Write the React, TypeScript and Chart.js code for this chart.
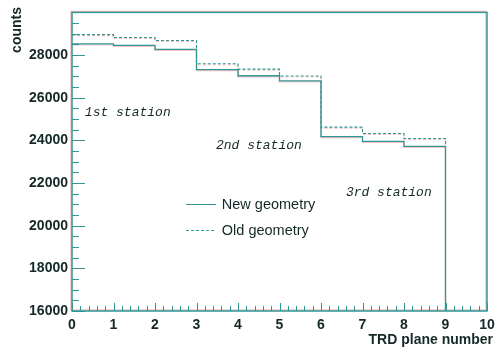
import React, { useEffect, useRef } from 'react';
import { Chart, registerables } from 'chart.js';

Chart.register(...registerables);

// TRD plane number (bin lower edges) and bin contents
const planes = [0, 1, 2, 3, 4, 5, 6, 7, 8, 9];
const newGeometry = [28520, 28450, 28270, 27320, 27030, 26790, 24180, 23950, 23720, 0];
const oldGeometry = [28960, 28820, 28680, 27590, 27340, 27020, 24620, 24320, 24090, 0];
const yTickLabels = [16000, 18000, 20000, 22000, 24000, 26000, 28000];
const xTickLabels = [0, 1, 2, 3, 4, 5, 6, 7, 8, 9, 10];
const stations = ['1st station', '2nd station', '3rd station'];
const seriesNames = ['New geometry', 'Old geometry'];

const TEAL = '#2f9896';
const TEXT = '#142826';
const SHADOW = 'rgba(235,120,120,0.45)';

function histPoints(values: number[]) {
  const pts = planes.map((p, i) => ({ x: p, y: values[i] }));
  pts.push({ x: planes[planes.length - 1] + 1, y: values[values.length - 1] });
  return pts;
}

const decorPlugin = {
  id: 'decor',
  beforeDatasetsDraw(chart: any) {
    const ctx = chart.ctx;
    ctx.save();
    ctx.shadowColor = SHADOW;
    ctx.shadowOffsetX = 0;
    ctx.shadowOffsetY = 1;
    ctx.shadowBlur = 0;
  },
  afterDatasetsDraw(chart: any) {
    chart.ctx.restore();
  },
  afterDraw(chart: any) {
    const { ctx, chartArea: a, scales } = chart;
    const xs = scales.x;
    const ys = scales.y;
    ctx.save();
    ctx.shadowColor = SHADOW;
    ctx.shadowOffsetX = -1;
    ctx.shadowOffsetY = -1;
    ctx.shadowBlur = 0;
    // frame
    ctx.strokeStyle = TEAL;
    ctx.lineWidth = 1.5;
    ctx.strokeRect(a.left, a.top, a.right - a.left, a.bottom - a.top);
    ctx.restore();

    ctx.save();
    ctx.strokeStyle = TEAL;
    // y ticks (inward)
    ctx.lineWidth = 1;
    ctx.beginPath();
    for (let v = ys.min; v <= ys.max; v += 500) {
      const y = Math.round(ys.getPixelForValue(v)) + 0.5;
      const len = v % 2000 === 0 ? 13 : 7;
      ctx.moveTo(a.left, y);
      ctx.lineTo(a.left + len, y);
    }
    // x ticks (inward)
    for (let i = 0; i <= 50; i++) {
      const v = xs.min + i * 0.2;
      const x = Math.round(xs.getPixelForValue(v)) + 0.5;
      const len = i % 5 === 0 ? 8 : 5;
      ctx.moveTo(x, a.bottom);
      ctx.lineTo(x, a.bottom - len);
    }
    ctx.stroke();
    ctx.restore();

    ctx.save();
    // axis titles
    ctx.fillStyle = TEXT;
    ctx.font = 'bold 14px "Liberation Sans", Arial, sans-serif';
    ctx.textAlign = 'right';
    ctx.textBaseline = 'middle';
    ctx.fillText('TRD plane number', 493, 340);
    ctx.save();
    ctx.translate(17, 7);
    ctx.rotate(-Math.PI / 2);
    ctx.fillText('counts', 0, 0);
    ctx.restore();

    // station annotations
    ctx.font = 'italic 13px "Liberation Mono", monospace';
    ctx.textAlign = 'left';
    const stationAt = [
      [0.31, 25290],
      [3.47, 23735],
      [6.6, 21540],
    ];
    stations.forEach((s, i) => {
      ctx.fillText(s, xs.getPixelForValue(stationAt[i][0]), ys.getPixelForValue(stationAt[i][1]));
    });

    // legend
    const legendAt = [21030, 19800];
    ctx.font = '14.5px "Liberation Sans", Arial, sans-serif';
    chart.data.datasets.forEach((ds: any, i: number) => {
      const y = Math.round(ys.getPixelForValue(legendAt[i])) + 0.5;
      ctx.strokeStyle = ds.borderColor;
      ctx.lineWidth = 1;
      ctx.setLineDash(ds.borderDash || []);
      ctx.beginPath();
      ctx.moveTo(xs.getPixelForValue(2.75), y);
      ctx.lineTo(xs.getPixelForValue(3.47), y);
      ctx.stroke();
      ctx.setLineDash([]);
      ctx.fillText(ds.label, xs.getPixelForValue(3.61), y);
    });
    ctx.restore();
  },
};

export default function App() {
  const ref = useRef<HTMLCanvasElement | null>(null);
  useEffect(() => {
    document.body.style.margin = '0';
    const canvas = ref.current!;
    const chart = new Chart(canvas, {
      type: 'line',
      data: {
        datasets: [
          {
            label: seriesNames[0],
            data: histPoints(newGeometry),
            stepped: true,
            borderColor: TEAL,
            borderWidth: 1.3,
            pointRadius: 0,
            fill: false,
          },
          {
            label: seriesNames[1],
            data: histPoints(oldGeometry),
            stepped: true,
            borderColor: TEAL,
            borderDash: [3, 2],
            borderWidth: 1.1,
            pointRadius: 0,
            fill: false,
          },
        ],
      },
      options: {
        animation: false,
        responsive: false,
        devicePixelRatio: 1,
        layout: { padding: { top: 5, right: 17, left: 0, bottom: 0 } },
        plugins: { legend: { display: false }, tooltip: { enabled: false } },
        scales: {
          x: {
            type: 'linear',
            min: 0,
            max: 10,
            border: { display: false },
            grid: { display: false, drawTicks: false },
            ticks: {
              stepSize: 1,
              padding: 6,
              color: TEXT,
              font: { family: '"Liberation Sans", Arial, sans-serif', size: 14, weight: 'bold' },
              callback: (v: any) => (xTickLabels.includes(v) ? String(v) : null),
            },
            afterFit: (s: any) => {
              s.height = 36;
            },
          },
          y: {
            type: 'linear',
            min: 16000,
            max: 30000,
            border: { display: false },
            grid: { display: false, drawTicks: false },
            ticks: {
              stepSize: 2000,
              padding: 4,
              color: TEXT,
              font: { family: '"Liberation Sans", Arial, sans-serif', size: 14, weight: 'bold' },
              callback: (v: any) => (yTickLabels.includes(v) ? String(v) : null),
            },
            afterFit: (s: any) => {
              s.width = 72;
            },
          },
        },
      },
      plugins: [decorPlugin],
    });
    return () => chart.destroy();
  }, []);
  return (
    <div style={{ width: 504, height: 347 }}>
      <canvas ref={ref} width={504} height={347} style={{ display: 'block' }} />
    </div>
  );
}
